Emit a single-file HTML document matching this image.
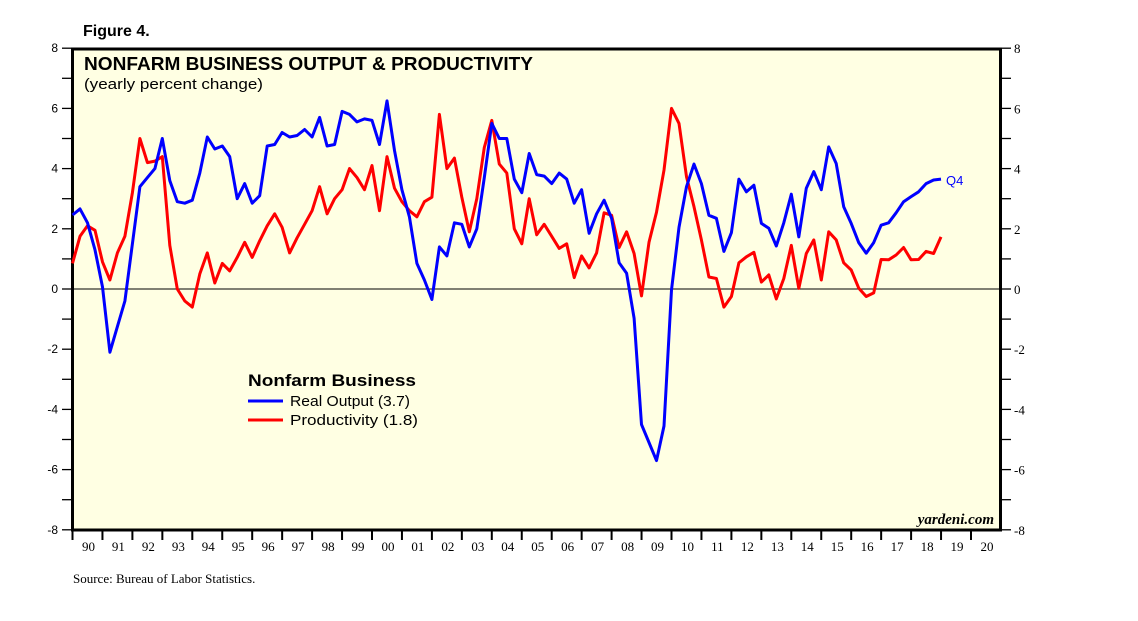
<!DOCTYPE html>
<html><head><meta charset="utf-8">
<style>
html,body{margin:0;padding:0;background:#fff;}
svg{display:block;}
</style></head>
<body>
<svg id="chart" width="1138" height="621" viewBox="0 0 1138 621" xmlns="http://www.w3.org/2000/svg">
<text x="83" y="36" font-family="Liberation Sans, sans-serif" font-weight="bold" font-size="16">Figure 4.</text>
<rect x="72.5" y="49" width="928" height="481" fill="#ffffe3" stroke="#000" stroke-width="3"/>
<g id="yaxes"></g>
<g id="xaxis"></g>
<line id="zero" x1="73" x2="1000" stroke="#000" stroke-width="1"/>
<g id="series"></g>
<text x="84" y="70" font-family="Liberation Sans, sans-serif" font-weight="bold" font-size="18" textLength="449" lengthAdjust="spacingAndGlyphs">NONFARM BUSINESS OUTPUT &amp; PRODUCTIVITY</text>
<text x="84" y="89" font-family="Liberation Sans, sans-serif" font-size="15" textLength="179" lengthAdjust="spacingAndGlyphs">(yearly percent change)</text>
<g>
<text x="248" y="386" font-family="Liberation Sans, sans-serif" font-weight="bold" font-size="16.5" textLength="168" lengthAdjust="spacingAndGlyphs">Nonfarm Business</text>
<line x1="248" x2="283" y1="401" y2="401" stroke="#0000ff" stroke-width="3"/>
<text x="290" y="406" font-family="Liberation Sans, sans-serif" font-size="15" textLength="120" lengthAdjust="spacingAndGlyphs">Real Output (3.7)</text>
<line x1="248" x2="283" y1="420" y2="420" stroke="#ff0000" stroke-width="3"/>
<text x="290" y="425" font-family="Liberation Sans, sans-serif" font-size="15" textLength="128" lengthAdjust="spacingAndGlyphs">Productivity (1.8)</text>
</g>
<text x="946" y="185" font-family="Liberation Sans, sans-serif" font-size="13" fill="#0000ff">Q4</text>
<text x="994" y="524" text-anchor="end" font-family="Liberation Serif, serif" font-style="italic" font-weight="bold" font-size="15">yardeni.com</text>
<text x="73" y="583" font-family="Liberation Serif, serif" font-size="13">Source: Bureau of Labor Statistics.</text>
</svg>
<script>
const yTicks = [8,6,4,2,0,-2,-4,-6,-8];
const yearLabels = ["90","91","92","93","94","95","96","97","98","99","00","01","02","03","04","05","06","07","08","09","10","11","12","13","14","15","16","17","18","19","20"];
const realOutput = [2.46,2.66,2.2,1.3,0.07,-2.1,-1.25,-0.4,1.5,3.4,3.7,4.0,5.0,3.6,2.9,2.85,2.95,3.85,5.05,4.65,4.75,4.4,3.0,3.5,2.85,3.1,4.75,4.8,5.2,5.05,5.1,5.3,5.05,5.7,4.75,4.8,5.9,5.8,5.55,5.65,5.6,4.8,6.25,4.6,3.3,2.4,0.85,0.3,-0.35,1.4,1.1,2.2,2.15,1.4,2.0,3.7,5.5,5.0,5.0,3.65,3.2,4.5,3.8,3.75,3.5,3.85,3.65,2.85,3.3,1.85,2.5,2.95,2.35,0.87,0.52,-0.97,-4.5,-5.1,-5.7,-4.55,-0.03,2.05,3.4,4.15,3.5,2.45,2.35,1.25,1.87,3.65,3.23,3.45,2.18,2.02,1.43,2.2,3.15,1.73,3.35,3.9,3.3,4.72,4.17,2.73,2.18,1.54,1.19,1.54,2.12,2.2,2.53,2.9,3.07,3.23,3.5,3.62,3.65];
const productivity = [0.85,1.75,2.1,1.95,0.9,0.3,1.2,1.75,3.2,5.0,4.2,4.25,4.4,1.45,0.0,-0.4,-0.6,0.5,1.2,0.2,0.85,0.6,1.05,1.55,1.05,1.6,2.1,2.5,2.05,1.2,1.7,2.15,2.6,3.4,2.5,3.0,3.3,4.0,3.7,3.3,4.1,2.6,4.4,3.35,2.9,2.6,2.4,2.9,3.05,5.8,4.0,4.35,3.05,1.9,3.0,4.7,5.6,4.15,3.85,2.0,1.5,3.0,1.8,2.15,1.75,1.35,1.5,0.38,1.1,0.7,1.2,2.53,2.45,1.38,1.9,1.18,-0.23,1.55,2.55,3.95,6.0,5.5,3.73,2.73,1.63,0.4,0.35,-0.6,-0.25,0.87,1.07,1.22,0.23,0.47,-0.33,0.35,1.45,0.02,1.18,1.63,0.3,1.9,1.63,0.87,0.63,0.03,-0.25,-0.13,0.98,0.97,1.13,1.38,0.97,0.98,1.25,1.18,1.73];

const NS='http://www.w3.org/2000/svg';
const X0=72.5, YW=29.95, Y0=289, YU=30.1;
function yScale(v){return Y0 - v*YU;}
function xIndex(i){return X0 + i*YW/4;}
function mk(tag, attrs, parent){const e=document.createElementNS(NS,tag);for(const k in attrs)e.setAttribute(k,attrs[k]);parent.appendChild(e);return e;}

const ya=document.getElementById('yaxes');
for(let v=-8; v<=8; v++){
  const y=yScale(v);
  const l=mk('line',{x1:62,x2:72,y1:y,y2:y,stroke:'#000','stroke-width':1.3},ya);
  
  
  const r=mk('line',{x1:1001,x2:1011,y1:y,y2:y,stroke:'#000','stroke-width':1.3},ya);
  
  
}
yTicks.forEach(v=>{
  const y=yScale(v);
  const t=mk('text',{x:58,y:y+4,'text-anchor':'end','font-family':'Liberation Sans, sans-serif','font-size':12},ya);
  t.textContent=v;
  
  
  const t2=mk('text',{x:1014,y:y+5,'font-family':'Liberation Serif, serif','font-size':13},ya);
  t2.textContent=v;
  
  
});
document.getElementById('zero').setAttribute('y1',yScale(0));
document.getElementById('zero').setAttribute('y2',yScale(0));

const xa=document.getElementById('xaxis');
yearLabels.forEach((lab,k)=>{
  const x=X0+k*YW;
  const tk=mk('line',{x1:x,x2:x,y1:530,y2:540,stroke:'#000','stroke-width':2},xa);
  
  
  const t=mk('text',{x:x+YW/2+1,y:551,'text-anchor':'middle','font-family':'Liberation Serif, serif','font-size':13},xa);
  t.textContent=lab;
  
  
});

const sg=document.getElementById('series');
function draw(arr,color,name){
  const d=arr.map((v,i)=>(i?'L':'M')+xIndex(i).toFixed(1)+','+yScale(v).toFixed(1)).join(' ');
  const p=mk('path',{d:d,fill:'none',stroke:color,'stroke-width':3,'stroke-linejoin':'round'},sg);
  
  
}
draw(productivity,'#ff0000','productivity-line');
draw(realOutput,'#0000ff','real-output-line');
</script>
</body></html>
